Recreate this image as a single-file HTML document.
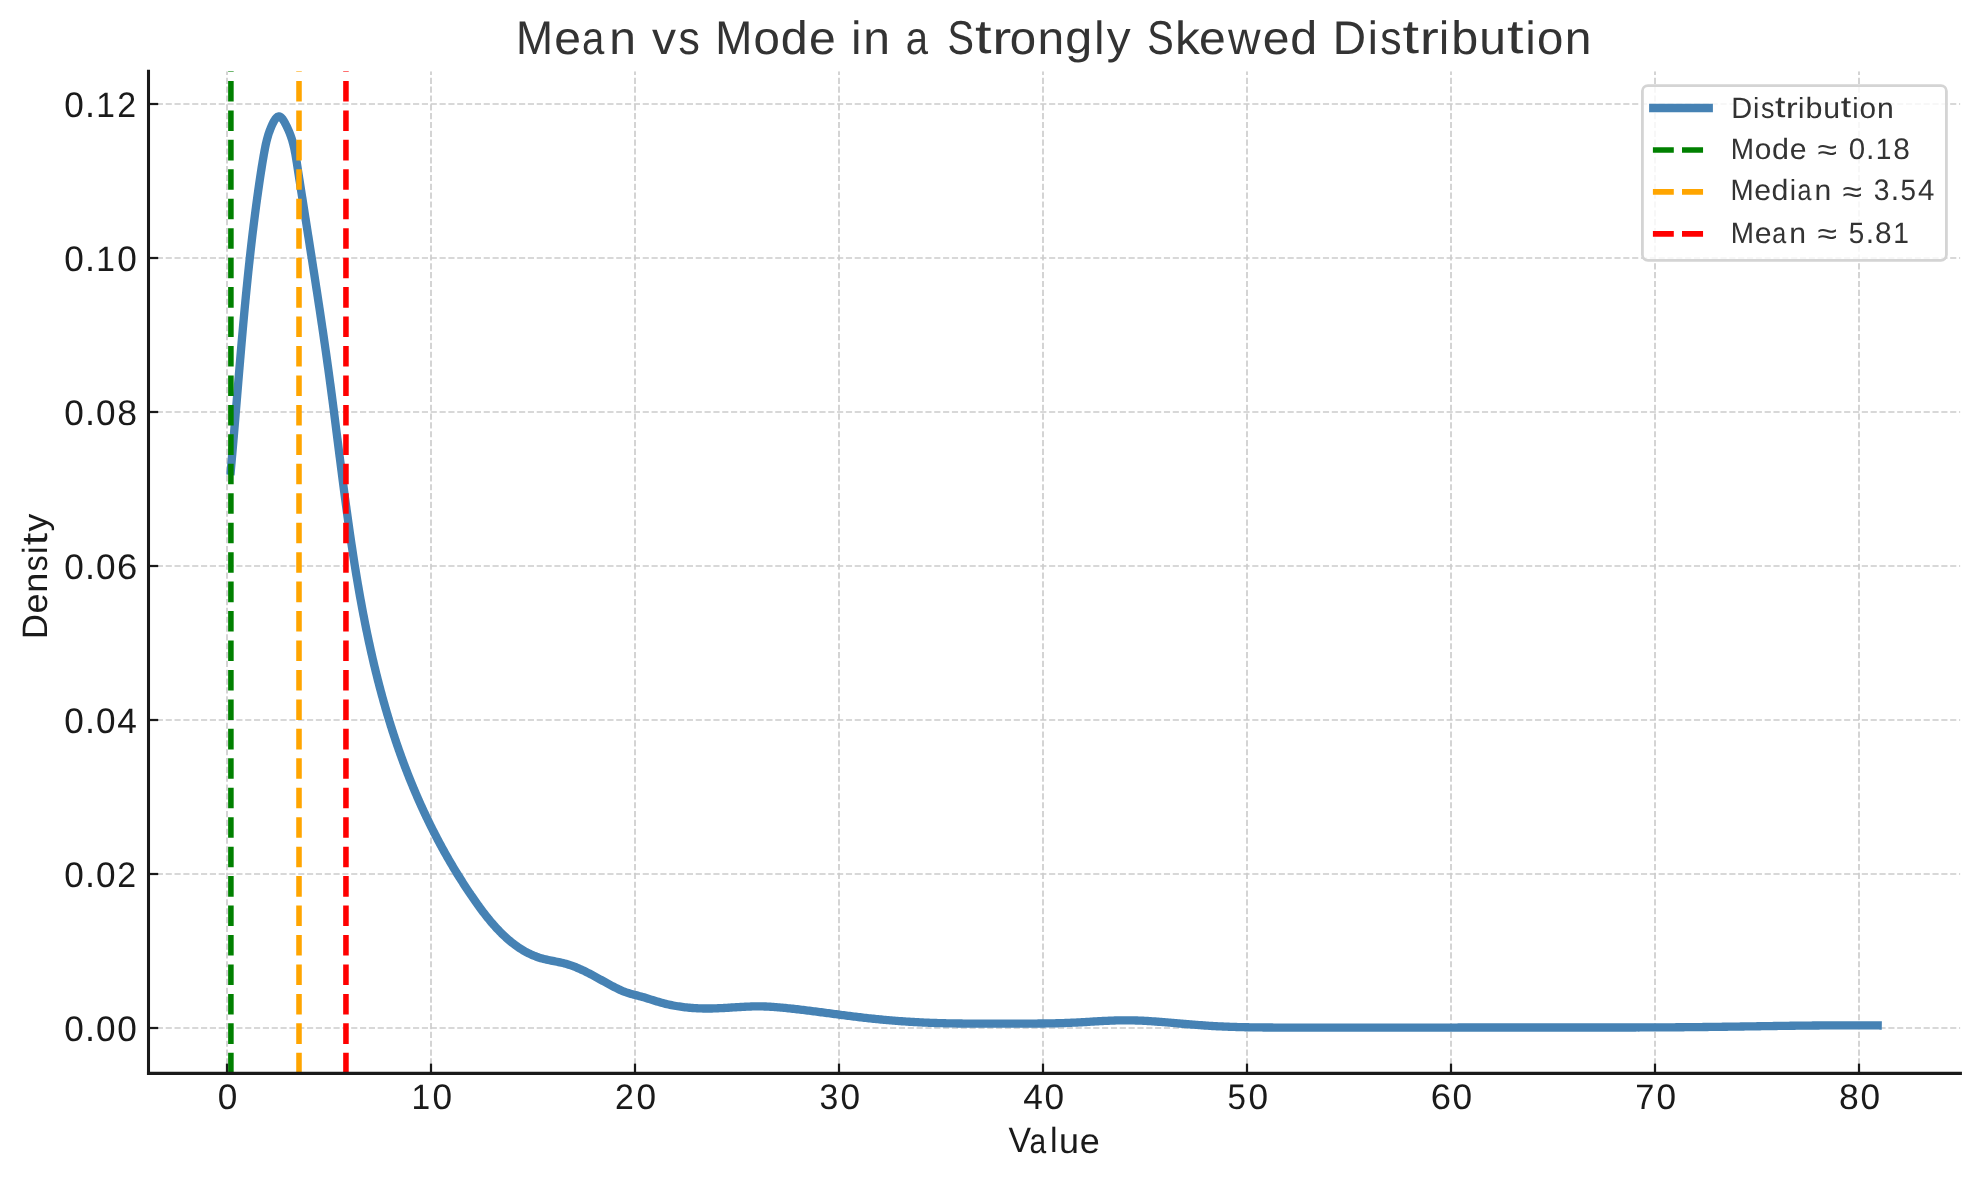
<!DOCTYPE html>
<html><head><meta charset="utf-8"><title>Mean vs Mode in a Strongly Skewed Distribution</title>
<style>html,body{margin:0;padding:0;background:#fff;width:1980px;height:1180px;overflow:hidden}svg{display:block;will-change:transform}</style>
</head><body>
<svg width="1980" height="1180" viewBox="0 0 1980 1180">
<defs><clipPath id="ax"><rect x="148.50" y="71.20" width="1811.90" height="1002.15"/></clipPath></defs>
<rect x="0" y="0" width="1980" height="1180" fill="#ffffff"/>
<g clip-path="url(#ax)" stroke="#cccccc" stroke-width="1.67" stroke-dasharray="6.167 2.667" fill="none">
<path d="M227.00 1073.35 L227.00 71.20"/>
<path d="M431.00 1073.35 L431.00 71.20"/>
<path d="M635.00 1073.35 L635.00 71.20"/>
<path d="M839.00 1073.35 L839.00 71.20"/>
<path d="M1043.00 1073.35 L1043.00 71.20"/>
<path d="M1247.00 1073.35 L1247.00 71.20"/>
<path d="M1451.00 1073.35 L1451.00 71.20"/>
<path d="M1655.00 1073.35 L1655.00 71.20"/>
<path d="M1859.00 1073.35 L1859.00 71.20"/>
<path d="M148.00 1028.00 L1960.40 1028.00"/>
<path d="M148.00 874.00 L1960.40 874.00"/>
<path d="M148.00 720.00 L1960.40 720.00"/>
<path d="M148.00 566.00 L1960.40 566.00"/>
<path d="M148.00 412.00 L1960.40 412.00"/>
<path d="M148.00 258.00 L1960.40 258.00"/>
<path d="M148.00 104.00 L1960.40 104.00"/>
</g>
<g clip-path="url(#ax)">
<path d="M230.39 475.00 L230.53 473.51 L230.67 472.01 L230.80 470.52 L230.93 469.02 L231.07 467.53 L231.20 466.03 L231.33 464.54 L231.47 463.04 L231.60 461.55 L231.73 460.05 L231.86 458.56 L231.99 457.06 L232.12 455.57 L232.26 454.07 L232.39 452.58 L232.51 451.08 L232.64 449.58 L232.77 448.09 L232.90 446.59 L233.03 445.10 L233.16 443.60 L233.29 442.11 L233.41 440.61 L233.54 439.11 L233.67 437.62 L233.80 436.12 L233.92 434.62 L234.05 433.13 L234.17 431.63 L234.30 430.14 L234.43 428.64 L234.55 427.14 L234.68 425.65 L234.80 424.15 L234.93 422.65 L235.05 421.16 L235.18 419.66 L235.30 418.16 L235.43 416.67 L235.55 415.17 L235.67 413.67 L235.80 412.18 L235.92 410.68 L236.05 409.18 L236.17 407.69 L236.29 406.19 L236.42 404.69 L236.54 403.20 L236.67 401.70 L236.79 400.20 L236.91 398.70 L237.04 397.21 L237.16 395.71 L237.28 394.21 L237.41 392.72 L237.53 391.22 L237.65 389.72 L237.78 388.23 L237.90 386.73 L238.03 385.23 L238.15 383.73 L238.27 382.24 L238.40 380.74 L238.52 379.24 L238.65 377.75 L238.77 376.25 L238.90 374.75 L239.02 373.26 L239.15 371.76 L239.27 370.26 L239.40 368.77 L239.52 367.27 L239.65 365.77 L239.77 364.28 L239.90 362.78 L240.03 361.28 L240.15 359.79 L240.28 358.29 L240.41 356.79 L240.53 355.30 L240.66 353.80 L240.79 352.31 L240.92 350.81 L241.05 349.31 L241.17 347.82 L241.30 346.32 L241.43 344.82 L241.56 343.33 L241.69 341.83 L241.82 340.34 L241.95 338.84 L242.08 337.35 L242.21 335.85 L242.35 334.35 L242.48 332.86 L242.61 331.36 L242.74 329.87 L242.88 328.37 L243.01 326.88 L243.15 325.38 L243.28 323.89 L243.41 322.39 L243.55 320.90 L243.69 319.40 L243.82 317.91 L243.96 316.41 L244.10 314.92 L244.24 313.43 L244.37 311.93 L244.51 310.44 L244.65 308.94 L244.79 307.45 L244.93 305.96 L245.07 304.46 L245.22 302.97 L245.36 301.47 L245.50 299.98 L245.65 298.49 L245.79 296.99 L245.93 295.50 L246.08 294.01 L246.23 292.52 L246.37 291.02 L246.52 289.53 L246.67 288.04 L246.82 286.55 L246.97 285.05 L247.12 283.56 L247.27 282.07 L247.42 280.58 L247.57 279.08 L247.72 277.59 L247.88 276.10 L248.03 274.61 L248.19 273.12 L248.34 271.63 L248.50 270.13 L248.66 268.64 L248.82 267.15 L248.97 265.66 L249.13 264.17 L249.30 262.68 L249.46 261.19 L249.62 259.69 L249.78 258.20 L249.95 256.71 L250.11 255.22 L250.28 253.73 L250.44 252.24 L250.61 250.75 L250.78 249.26 L250.95 247.77 L251.12 246.28 L251.29 244.78 L251.46 243.29 L251.64 241.80 L251.81 240.31 L251.99 238.82 L252.16 237.33 L252.34 235.84 L252.52 234.35 L252.70 232.86 L252.88 231.37 L253.06 229.88 L253.24 228.38 L253.42 226.89 L253.61 225.40 L253.79 223.91 L253.98 222.42 L254.17 220.93 L254.36 219.44 L254.55 217.95 L254.74 216.46 L254.93 214.97 L255.12 213.48 L255.32 211.98 L255.51 210.49 L255.71 209.00 L255.91 207.51 L256.10 206.02 L256.30 204.53 L256.51 203.04 L256.71 201.54 L256.91 200.05 L257.12 198.56 L257.32 197.07 L257.53 195.58 L257.74 194.09 L257.95 192.59 L258.16 191.10 L258.37 189.61 L258.59 188.12 L258.80 186.63 L259.02 185.13 L259.23 183.64 L259.45 182.15 L259.67 180.66 L259.89 179.16 L260.12 177.67 L260.34 176.18 L260.57 174.69 L260.80 173.20 L261.02 171.71 L261.26 170.22 L261.49 168.74 L261.72 167.26 L261.96 165.78 L262.20 164.31 L262.44 162.84 L262.68 161.37 L262.93 159.91 L263.18 158.46 L263.43 157.01 L263.68 155.56 L263.93 154.13 L264.19 152.70 L264.45 151.27 L264.72 149.86 L264.99 148.45 L265.26 147.04 L265.55 145.63 L265.85 144.22 L266.17 142.81 L266.50 141.39 L266.86 139.95 L267.24 138.51 L267.65 137.05 L268.08 135.57 L268.56 134.07 L269.06 132.54 L269.61 131.00 L270.19 129.44 L270.83 127.86 L271.50 126.26 L272.23 124.64 L273.01 123.02 L273.83 121.46 L274.69 120.00 L275.58 118.71 L276.50 117.65 L277.43 116.88 L278.38 116.46 L279.34 116.43 L280.29 116.82 L281.24 117.56 L282.18 118.59 L283.10 119.84 L283.99 121.27 L284.85 122.80 L285.68 124.38 L286.46 125.94 L287.20 127.45 L287.90 128.94 L288.55 130.39 L289.17 131.83 L289.75 133.26 L290.30 134.68 L290.82 136.10 L291.31 137.53 L291.78 138.96 L292.22 140.40 L292.63 141.85 L293.03 143.30 L293.40 144.75 L293.75 146.21 L294.09 147.67 L294.41 149.14 L294.71 150.61 L295.00 152.08 L295.28 153.56 L295.54 155.03 L295.80 156.51 L296.05 157.99 L296.29 159.48 L296.53 160.96 L296.76 162.44 L296.99 163.93 L297.22 165.41 L297.45 166.90 L297.68 168.38 L297.91 169.87 L298.13 171.35 L298.36 172.83 L298.60 174.32 L298.83 175.80 L299.06 177.28 L299.29 178.77 L299.52 180.25 L299.75 181.73 L299.98 183.22 L300.21 184.70 L300.44 186.18 L300.67 187.66 L300.90 189.14 L301.14 190.63 L301.37 192.11 L301.60 193.59 L301.83 195.07 L302.06 196.55 L302.30 198.03 L302.53 199.51 L302.76 200.99 L302.99 202.47 L303.23 203.96 L303.46 205.44 L303.69 206.92 L303.92 208.40 L304.16 209.88 L304.39 211.36 L304.62 212.84 L304.85 214.32 L305.09 215.80 L305.32 217.28 L305.55 218.76 L305.79 220.24 L306.02 221.71 L306.25 223.19 L306.48 224.67 L306.72 226.15 L306.95 227.63 L307.18 229.11 L307.42 230.59 L307.65 232.07 L307.88 233.55 L308.11 235.03 L308.35 236.51 L308.58 237.98 L308.81 239.46 L309.04 240.94 L309.28 242.42 L309.51 243.90 L309.74 245.38 L309.97 246.86 L310.20 248.33 L310.44 249.81 L310.67 251.29 L310.90 252.77 L311.13 254.25 L311.36 255.73 L311.59 257.21 L311.82 258.68 L312.06 260.16 L312.29 261.64 L312.52 263.12 L312.75 264.60 L312.98 266.08 L313.21 267.56 L313.44 269.03 L313.67 270.51 L313.90 271.99 L314.13 273.47 L314.36 274.95 L314.58 276.43 L314.81 277.91 L315.04 279.38 L315.27 280.86 L315.50 282.34 L315.73 283.82 L315.95 285.30 L316.18 286.78 L316.41 288.26 L316.64 289.74 L316.86 291.22 L317.09 292.69 L317.32 294.17 L317.54 295.65 L317.77 297.13 L317.99 298.61 L318.22 300.09 L318.44 301.57 L318.67 303.05 L318.89 304.53 L319.12 306.01 L319.34 307.49 L319.56 308.97 L319.79 310.45 L320.01 311.93 L320.23 313.41 L320.45 314.89 L320.67 316.37 L320.90 317.86 L321.12 319.34 L321.34 320.82 L321.56 322.30 L321.78 323.78 L322.00 325.26 L322.22 326.74 L322.43 328.22 L322.65 329.71 L322.87 331.19 L323.09 332.67 L323.31 334.15 L323.52 335.64 L323.74 337.12 L323.95 338.60 L324.17 340.08 L324.38 341.57 L324.60 343.05 L324.81 344.53 L325.03 346.02 L325.24 347.50 L325.45 348.99 L325.66 350.47 L325.88 351.96 L326.09 353.44 L326.30 354.92 L326.51 356.41 L326.72 357.90 L326.93 359.38 L327.14 360.87 L327.34 362.35 L327.55 363.84 L327.76 365.32 L327.97 366.81 L328.17 368.30 L328.38 369.78 L328.58 371.27 L328.79 372.76 L328.99 374.25 L329.19 375.73 L329.40 377.22 L329.60 378.71 L329.80 380.20 L330.00 381.69 L330.20 383.18 L330.40 384.67 L330.60 386.16 L330.80 387.65 L331.00 389.14 L331.20 390.63 L331.39 392.12 L331.59 393.61 L331.79 395.10 L331.98 396.59 L332.18 398.08 L332.37 399.57 L332.57 401.07 L332.76 402.56 L332.96 404.05 L333.15 405.54 L333.34 407.03 L333.54 408.53 L333.73 410.02 L333.92 411.51 L334.12 413.01 L334.31 414.50 L334.50 415.99 L334.69 417.49 L334.88 418.98 L335.07 420.47 L335.26 421.97 L335.45 423.46 L335.64 424.96 L335.83 426.45 L336.02 427.94 L336.21 429.44 L336.40 430.93 L336.59 432.43 L336.78 433.92 L336.97 435.42 L337.16 436.91 L337.35 438.41 L337.54 439.90 L337.73 441.40 L337.92 442.89 L338.11 444.39 L338.30 445.88 L338.49 447.38 L338.68 448.88 L338.87 450.37 L339.06 451.87 L339.25 453.36 L339.44 454.86 L339.63 456.35 L339.82 457.85 L340.01 459.35 L340.20 460.84 L340.39 462.34 L340.58 463.83 L340.77 465.33 L340.96 466.82 L341.15 468.32 L341.34 469.82 L341.54 471.31 L341.73 472.81 L341.92 474.30 L342.11 475.80 L342.31 477.29 L342.50 478.79 L342.69 480.28 L342.89 481.78 L343.08 483.28 L343.28 484.77 L343.47 486.27 L343.67 487.76 L343.86 489.26 L344.06 490.75 L344.26 492.25 L344.46 493.74 L344.65 495.24 L344.85 496.73 L345.05 498.23 L345.25 499.72 L345.45 501.22 L345.65 502.71 L345.85 504.20 L346.05 505.70 L346.26 507.19 L346.46 508.69 L346.66 510.18 L346.87 511.67 L347.07 513.17 L347.28 514.66 L347.48 516.15 L347.69 517.65 L347.90 519.14 L348.11 520.63 L348.32 522.12 L348.53 523.62 L348.74 525.11 L348.95 526.60 L349.16 528.09 L349.37 529.58 L349.59 531.07 L349.80 532.57 L350.02 534.06 L350.23 535.55 L350.45 537.04 L350.67 538.53 L350.89 540.02 L351.11 541.51 L351.33 543.00 L351.55 544.49 L351.77 545.98 L352.00 547.47 L352.22 548.95 L352.45 550.44 L352.67 551.93 L352.90 553.42 L353.13 554.91 L353.36 556.39 L353.59 557.88 L353.82 559.37 L354.06 560.85 L354.29 562.34 L354.52 563.83 L354.76 565.31 L355.00 566.80 L355.24 568.28 L355.48 569.77 L355.72 571.25 L355.96 572.74 L356.20 574.22 L356.45 575.70 L356.69 577.19 L356.94 578.67 L357.19 580.15 L357.44 581.63 L357.69 583.12 L357.94 584.60 L358.20 586.08 L358.45 587.56 L358.71 589.04 L358.97 590.52 L359.23 592.00 L359.49 593.48 L359.75 594.96 L360.01 596.44 L360.28 597.91 L360.54 599.39 L360.81 600.87 L361.08 602.35 L361.35 603.82 L361.63 605.30 L361.90 606.77 L362.17 608.25 L362.45 609.72 L362.73 611.20 L363.01 612.67 L363.29 614.15 L363.58 615.62 L363.86 617.09 L364.15 618.56 L364.44 620.03 L364.73 621.51 L365.02 622.98 L365.31 624.45 L365.61 625.92 L365.90 627.39 L366.20 628.85 L366.50 630.32 L366.80 631.79 L367.11 633.26 L367.41 634.72 L367.72 636.19 L368.03 637.66 L368.34 639.12 L368.65 640.59 L368.97 642.05 L369.29 643.51 L369.60 644.98 L369.92 646.44 L370.25 647.90 L370.57 649.36 L370.90 650.82 L371.23 652.28 L371.56 653.74 L371.89 655.20 L372.22 656.66 L372.56 658.12 L372.90 659.58 L373.24 661.03 L373.58 662.49 L373.92 663.95 L374.27 665.40 L374.62 666.86 L374.97 668.31 L375.32 669.76 L375.68 671.22 L376.04 672.67 L376.39 674.12 L376.76 675.57 L377.12 677.02 L377.49 678.47 L377.85 679.92 L378.22 681.37 L378.60 682.81 L378.97 684.26 L379.35 685.71 L379.73 687.15 L380.11 688.60 L380.49 690.04 L380.88 691.49 L381.27 692.93 L381.66 694.37 L382.05 695.81 L382.45 697.25 L382.85 698.69 L383.25 700.13 L383.65 701.57 L384.06 703.01 L384.47 704.45 L384.88 705.88 L385.29 707.32 L385.71 708.75 L386.12 710.19 L386.55 711.62 L386.97 713.05 L387.39 714.49 L387.82 715.92 L388.25 717.35 L388.69 718.78 L389.12 720.21 L389.56 721.64 L390.00 723.06 L390.45 724.49 L390.89 725.92 L391.34 727.34 L391.80 728.77 L392.25 730.19 L392.71 731.61 L393.17 733.03 L393.63 734.46 L394.10 735.88 L394.57 737.30 L395.04 738.71 L395.51 740.13 L395.99 741.55 L396.47 742.97 L396.95 744.38 L397.44 745.80 L397.93 747.21 L398.42 748.62 L398.91 750.03 L399.41 751.44 L399.91 752.86 L400.41 754.26 L400.92 755.67 L401.43 757.08 L401.94 758.49 L402.45 759.89 L402.97 761.30 L403.49 762.70 L404.02 764.11 L404.54 765.51 L405.07 766.91 L405.61 768.31 L406.14 769.71 L406.68 771.11 L407.23 772.50 L407.77 773.90 L408.32 775.29 L408.87 776.69 L409.43 778.08 L409.98 779.47 L410.55 780.86 L411.11 782.25 L411.68 783.64 L412.25 785.03 L412.82 786.42 L413.40 787.80 L413.98 789.19 L414.56 790.57 L415.14 791.95 L415.73 793.33 L416.33 794.71 L416.92 796.09 L417.52 797.47 L418.12 798.84 L418.73 800.22 L419.33 801.59 L419.95 802.96 L420.56 804.33 L421.18 805.70 L421.80 807.07 L422.42 808.43 L423.05 809.80 L423.68 811.16 L424.31 812.53 L424.95 813.89 L425.59 815.25 L426.23 816.60 L426.88 817.96 L427.53 819.32 L428.18 820.67 L428.84 822.02 L429.50 823.37 L430.16 824.72 L430.83 826.07 L431.50 827.41 L432.17 828.76 L432.84 830.10 L433.52 831.44 L434.21 832.78 L434.89 834.12 L435.58 835.46 L436.27 836.79 L436.97 838.13 L437.67 839.46 L438.37 840.79 L439.08 842.12 L439.79 843.44 L440.50 844.77 L441.21 846.09 L441.93 847.41 L442.66 848.73 L443.38 850.05 L444.11 851.37 L444.84 852.68 L445.58 853.99 L446.32 855.30 L447.06 856.61 L447.81 857.92 L448.56 859.22 L449.31 860.53 L450.07 861.83 L450.83 863.13 L451.59 864.42 L452.36 865.72 L453.13 867.01 L453.90 868.31 L454.68 869.60 L455.46 870.88 L456.24 872.17 L457.03 873.45 L457.82 874.73 L458.62 876.01 L459.41 877.29 L460.22 878.57 L461.02 879.84 L461.83 881.11 L462.64 882.38 L463.46 883.65 L464.28 884.91 L465.10 886.18 L465.92 887.44 L466.75 888.70 L467.59 889.95 L468.42 891.21 L469.26 892.46 L470.11 893.71 L470.95 894.96 L471.81 896.20 L472.66 897.44 L473.52 898.68 L474.38 899.92 L475.24 901.16 L476.11 902.39 L476.99 903.62 L477.86 904.85 L478.75 906.07 L479.63 907.30 L480.52 908.51 L481.42 909.72 L482.33 910.93 L483.23 912.13 L484.15 913.33 L485.07 914.52 L486.00 915.71 L486.93 916.89 L487.87 918.07 L488.82 919.23 L489.78 920.39 L490.74 921.55 L491.72 922.69 L492.70 923.83 L493.69 924.96 L494.69 926.08 L495.69 927.20 L496.71 928.30 L497.74 929.40 L498.77 930.48 L499.82 931.56 L500.88 932.62 L501.94 933.68 L503.02 934.72 L504.11 935.76 L505.21 936.78 L506.33 937.79 L507.45 938.79 L508.59 939.78 L509.73 940.75 L510.89 941.70 L512.06 942.64 L513.25 943.57 L514.44 944.48 L515.65 945.37 L516.86 946.25 L518.09 947.10 L519.33 947.94 L520.59 948.76 L521.85 949.55 L523.13 950.33 L524.42 951.08 L525.72 951.81 L527.03 952.52 L528.36 953.20 L529.70 953.86 L531.05 954.49 L532.41 955.10 L533.78 955.68 L535.17 956.23 L536.57 956.76 L537.98 957.25 L539.40 957.72 L540.84 958.16 L542.29 958.57 L543.74 958.95 L545.21 959.31 L546.69 959.65 L548.17 959.97 L549.66 960.28 L551.15 960.59 L552.64 960.88 L554.13 961.18 L555.63 961.47 L557.12 961.77 L558.61 962.07 L560.09 962.39 L561.57 962.72 L563.04 963.07 L564.50 963.44 L565.95 963.83 L567.39 964.25 L568.82 964.69 L570.24 965.15 L571.65 965.64 L573.05 966.15 L574.45 966.68 L575.83 967.22 L577.21 967.79 L578.58 968.37 L579.95 968.97 L581.31 969.58 L582.66 970.21 L584.01 970.85 L585.35 971.51 L586.69 972.17 L588.03 972.85 L589.36 973.54 L590.69 974.23 L592.02 974.94 L593.34 975.65 L594.66 976.36 L595.98 977.09 L597.30 977.81 L598.62 978.54 L599.94 979.28 L601.26 980.01 L602.58 980.74 L603.90 981.48 L605.23 982.21 L606.55 982.94 L607.88 983.67 L609.21 984.39 L610.55 985.11 L611.89 985.82 L613.23 986.53 L614.58 987.22 L615.93 987.91 L617.29 988.58 L618.65 989.24 L620.02 989.87 L621.39 990.48 L622.76 991.07 L624.14 991.62 L625.53 992.14 L626.92 992.62 L628.31 993.07 L629.71 993.50 L631.11 993.90 L632.51 994.28 L633.92 994.66 L635.33 995.02 L636.75 995.39 L638.17 995.76 L639.59 996.15 L641.02 996.54 L642.45 996.95 L643.88 997.37 L645.32 997.81 L646.76 998.25 L648.20 998.69 L649.65 999.14 L651.09 999.60 L652.55 1000.05 L654.00 1000.50 L655.46 1000.95 L656.92 1001.39 L658.38 1001.83 L659.84 1002.26 L661.31 1002.67 L662.78 1003.08 L664.25 1003.47 L665.73 1003.84 L667.20 1004.20 L668.68 1004.54 L670.16 1004.86 L671.64 1005.17 L673.13 1005.47 L674.61 1005.75 L676.10 1006.01 L677.59 1006.26 L679.08 1006.49 L680.57 1006.71 L682.06 1006.92 L683.56 1007.11 L685.05 1007.29 L686.55 1007.46 L688.05 1007.61 L689.55 1007.75 L691.05 1007.88 L692.55 1007.99 L694.05 1008.10 L695.55 1008.19 L697.05 1008.27 L698.55 1008.33 L700.05 1008.39 L701.55 1008.44 L703.06 1008.47 L704.56 1008.49 L706.06 1008.51 L707.56 1008.51 L709.07 1008.51 L710.57 1008.49 L712.07 1008.47 L713.57 1008.43 L715.07 1008.39 L716.57 1008.34 L718.07 1008.28 L719.57 1008.21 L721.07 1008.14 L722.57 1008.07 L724.07 1007.98 L725.57 1007.90 L727.06 1007.81 L728.56 1007.72 L730.06 1007.63 L731.56 1007.53 L733.05 1007.44 L734.55 1007.34 L736.04 1007.25 L737.54 1007.15 L739.03 1007.06 L740.53 1006.97 L742.02 1006.89 L743.52 1006.81 L745.01 1006.73 L746.51 1006.66 L748.00 1006.60 L749.49 1006.54 L750.99 1006.49 L752.48 1006.44 L753.97 1006.41 L755.46 1006.39 L756.96 1006.37 L758.45 1006.37 L759.94 1006.38 L761.43 1006.40 L762.93 1006.43 L764.42 1006.47 L765.91 1006.52 L767.40 1006.59 L768.89 1006.66 L770.38 1006.74 L771.88 1006.83 L773.37 1006.93 L774.86 1007.04 L776.35 1007.16 L777.84 1007.28 L779.33 1007.40 L780.82 1007.54 L782.32 1007.68 L783.81 1007.82 L785.30 1007.97 L786.79 1008.12 L788.28 1008.27 L789.77 1008.43 L791.27 1008.59 L792.76 1008.76 L794.25 1008.92 L795.74 1009.09 L797.24 1009.26 L798.73 1009.44 L800.22 1009.61 L801.71 1009.79 L803.20 1009.97 L804.70 1010.15 L806.19 1010.34 L807.68 1010.52 L809.18 1010.71 L810.67 1010.90 L812.16 1011.09 L813.65 1011.28 L815.15 1011.47 L816.64 1011.66 L818.13 1011.86 L819.63 1012.05 L821.12 1012.25 L822.61 1012.44 L824.11 1012.64 L825.60 1012.84 L827.10 1013.04 L828.59 1013.23 L830.08 1013.43 L831.58 1013.63 L833.07 1013.83 L834.57 1014.03 L836.06 1014.22 L837.55 1014.42 L839.05 1014.62 L840.54 1014.81 L842.04 1015.01 L843.53 1015.20 L845.03 1015.39 L846.52 1015.59 L848.01 1015.78 L849.51 1015.97 L851.00 1016.16 L852.50 1016.34 L853.99 1016.53 L855.49 1016.71 L856.98 1016.90 L858.48 1017.08 L859.97 1017.25 L861.47 1017.43 L862.97 1017.60 L864.46 1017.78 L865.96 1017.95 L867.45 1018.11 L868.95 1018.28 L870.44 1018.44 L871.94 1018.60 L873.43 1018.75 L874.93 1018.91 L876.43 1019.06 L877.92 1019.21 L879.42 1019.36 L880.91 1019.50 L882.41 1019.64 L883.91 1019.78 L885.40 1019.92 L886.90 1020.05 L888.39 1020.18 L889.89 1020.31 L891.39 1020.44 L892.88 1020.56 L894.38 1020.68 L895.88 1020.80 L897.37 1020.92 L898.87 1021.03 L900.37 1021.14 L901.86 1021.25 L903.36 1021.36 L904.86 1021.46 L906.35 1021.56 L907.85 1021.66 L909.35 1021.75 L910.84 1021.85 L912.34 1021.94 L913.84 1022.02 L915.34 1022.11 L916.83 1022.19 L918.33 1022.27 L919.83 1022.35 L921.33 1022.43 L922.82 1022.50 L924.32 1022.57 L925.82 1022.64 L927.32 1022.70 L928.81 1022.76 L930.31 1022.82 L931.81 1022.88 L933.31 1022.93 L934.80 1022.98 L936.30 1023.03 L937.80 1023.08 L939.30 1023.12 L940.80 1023.17 L942.29 1023.21 L943.79 1023.24 L945.29 1023.28 L946.79 1023.31 L948.29 1023.34 L949.78 1023.37 L951.28 1023.40 L952.78 1023.42 L954.28 1023.44 L955.78 1023.46 L957.28 1023.48 L958.77 1023.50 L960.27 1023.52 L961.77 1023.53 L963.27 1023.54 L964.77 1023.56 L966.27 1023.57 L967.77 1023.58 L969.26 1023.58 L970.76 1023.59 L972.26 1023.60 L973.76 1023.60 L975.26 1023.61 L976.76 1023.61 L978.26 1023.61 L979.76 1023.61 L981.25 1023.61 L982.75 1023.61 L984.25 1023.61 L985.75 1023.61 L987.25 1023.61 L988.75 1023.61 L990.25 1023.61 L991.75 1023.61 L993.25 1023.60 L994.75 1023.60 L996.25 1023.60 L997.75 1023.60 L999.24 1023.59 L1000.74 1023.59 L1002.24 1023.59 L1003.74 1023.59 L1005.24 1023.59 L1006.74 1023.59 L1008.24 1023.59 L1009.74 1023.59 L1011.24 1023.59 L1012.74 1023.59 L1014.24 1023.59 L1015.74 1023.59 L1017.24 1023.59 L1018.74 1023.59 L1020.24 1023.59 L1021.74 1023.59 L1023.24 1023.59 L1024.74 1023.58 L1026.24 1023.58 L1027.73 1023.58 L1029.23 1023.57 L1030.73 1023.57 L1032.23 1023.56 L1033.73 1023.56 L1035.23 1023.55 L1036.73 1023.54 L1038.23 1023.53 L1039.73 1023.51 L1041.23 1023.50 L1042.73 1023.48 L1044.23 1023.47 L1045.73 1023.45 L1047.23 1023.43 L1048.73 1023.40 L1050.23 1023.38 L1051.73 1023.35 L1053.23 1023.32 L1054.73 1023.29 L1056.23 1023.26 L1057.73 1023.22 L1059.23 1023.18 L1060.73 1023.14 L1062.23 1023.10 L1063.73 1023.05 L1065.23 1023.00 L1066.73 1022.95 L1068.23 1022.89 L1069.73 1022.83 L1071.23 1022.77 L1072.73 1022.71 L1074.23 1022.64 L1075.73 1022.57 L1077.23 1022.49 L1078.73 1022.41 L1080.23 1022.33 L1081.73 1022.25 L1083.23 1022.16 L1084.73 1022.07 L1086.23 1021.99 L1087.73 1021.90 L1089.23 1021.81 L1090.73 1021.71 L1092.23 1021.62 L1093.73 1021.53 L1095.23 1021.44 L1096.73 1021.35 L1098.23 1021.27 L1099.74 1021.18 L1101.24 1021.10 L1102.74 1021.02 L1104.24 1020.94 L1105.74 1020.86 L1107.24 1020.79 L1108.74 1020.72 L1110.24 1020.66 L1111.74 1020.60 L1113.24 1020.54 L1114.74 1020.49 L1116.24 1020.45 L1117.74 1020.41 L1119.24 1020.38 L1120.74 1020.35 L1122.24 1020.33 L1123.74 1020.32 L1125.24 1020.31 L1126.74 1020.31 L1128.24 1020.32 L1129.74 1020.34 L1131.24 1020.37 L1132.74 1020.40 L1134.24 1020.43 L1135.74 1020.48 L1137.24 1020.53 L1138.74 1020.58 L1140.24 1020.65 L1141.74 1020.71 L1143.24 1020.78 L1144.74 1020.86 L1146.24 1020.94 L1147.74 1021.03 L1149.24 1021.12 L1150.74 1021.21 L1152.25 1021.31 L1153.75 1021.41 L1155.25 1021.52 L1156.75 1021.63 L1158.25 1021.74 L1159.75 1021.85 L1161.25 1021.97 L1162.75 1022.09 L1164.25 1022.21 L1165.75 1022.33 L1167.25 1022.46 L1168.75 1022.58 L1170.25 1022.71 L1171.75 1022.84 L1173.25 1022.96 L1174.75 1023.09 L1176.25 1023.22 L1177.75 1023.35 L1179.25 1023.48 L1180.75 1023.61 L1182.25 1023.74 L1183.75 1023.86 L1185.25 1023.99 L1186.76 1024.11 L1188.26 1024.24 L1189.76 1024.36 L1191.26 1024.48 L1192.76 1024.60 L1194.26 1024.72 L1195.76 1024.84 L1197.26 1024.95 L1198.76 1025.07 L1200.26 1025.18 L1201.76 1025.28 L1203.26 1025.39 L1204.76 1025.50 L1206.26 1025.60 L1207.76 1025.70 L1209.26 1025.79 L1210.76 1025.89 L1212.26 1025.98 L1213.77 1026.06 L1215.27 1026.15 L1216.77 1026.23 L1218.27 1026.31 L1219.77 1026.38 L1221.27 1026.45 L1222.77 1026.52 L1224.27 1026.59 L1225.77 1026.65 L1227.27 1026.71 L1228.77 1026.76 L1230.27 1026.82 L1231.77 1026.87 L1233.27 1026.92 L1234.77 1026.96 L1236.27 1027.01 L1237.78 1027.05 L1239.28 1027.09 L1240.78 1027.13 L1242.28 1027.16 L1243.78 1027.19 L1245.28 1027.22 L1246.78 1027.25 L1248.28 1027.28 L1249.78 1027.31 L1251.28 1027.33 L1252.78 1027.35 L1254.28 1027.37 L1255.78 1027.39 L1257.28 1027.41 L1258.79 1027.43 L1260.29 1027.44 L1261.79 1027.46 L1263.29 1027.47 L1264.79 1027.48 L1266.29 1027.49 L1267.79 1027.50 L1269.29 1027.51 L1270.79 1027.52 L1272.29 1027.53 L1273.79 1027.54 L1275.29 1027.55 L1276.79 1027.55 L1278.30 1027.56 L1279.80 1027.57 L1281.30 1027.57 L1282.80 1027.58 L1284.30 1027.58 L1285.80 1027.59 L1287.30 1027.59 L1288.80 1027.60 L1290.30 1027.61 L1291.80 1027.61 L1293.30 1027.61 L1294.80 1027.62 L1296.31 1027.62 L1297.81 1027.63 L1299.31 1027.63 L1300.81 1027.64 L1302.31 1027.64 L1303.81 1027.64 L1305.31 1027.65 L1306.81 1027.65 L1308.31 1027.65 L1309.81 1027.66 L1311.31 1027.66 L1312.81 1027.66 L1314.32 1027.67 L1315.82 1027.67 L1317.32 1027.67 L1318.82 1027.67 L1320.32 1027.67 L1321.82 1027.68 L1323.32 1027.68 L1324.82 1027.68 L1326.32 1027.68 L1327.82 1027.68 L1329.32 1027.68 L1330.83 1027.69 L1332.33 1027.69 L1333.83 1027.69 L1335.33 1027.69 L1336.83 1027.69 L1338.33 1027.69 L1339.83 1027.69 L1341.33 1027.69 L1342.83 1027.69 L1344.33 1027.69 L1345.83 1027.69 L1347.34 1027.69 L1348.84 1027.69 L1350.34 1027.69 L1351.84 1027.69 L1353.34 1027.69 L1354.84 1027.69 L1356.34 1027.69 L1357.84 1027.69 L1359.34 1027.69 L1360.84 1027.69 L1362.35 1027.69 L1363.85 1027.69 L1365.35 1027.68 L1366.85 1027.68 L1368.35 1027.68 L1369.85 1027.68 L1371.35 1027.68 L1372.85 1027.68 L1374.35 1027.68 L1375.85 1027.67 L1377.36 1027.67 L1378.86 1027.67 L1380.36 1027.67 L1381.86 1027.67 L1383.36 1027.67 L1384.86 1027.66 L1386.36 1027.66 L1387.86 1027.66 L1389.36 1027.66 L1390.87 1027.66 L1392.37 1027.65 L1393.87 1027.65 L1395.37 1027.65 L1396.87 1027.65 L1398.37 1027.64 L1399.87 1027.64 L1401.37 1027.64 L1402.87 1027.64 L1404.38 1027.63 L1405.88 1027.63 L1407.38 1027.63 L1408.88 1027.63 L1410.38 1027.62 L1411.88 1027.62 L1413.38 1027.62 L1414.88 1027.62 L1416.38 1027.61 L1417.89 1027.61 L1419.39 1027.61 L1420.89 1027.60 L1422.39 1027.60 L1423.89 1027.60 L1425.39 1027.60 L1426.89 1027.59 L1428.39 1027.59 L1429.89 1027.59 L1431.40 1027.58 L1432.90 1027.58 L1434.40 1027.58 L1435.90 1027.58 L1437.40 1027.57 L1438.90 1027.57 L1440.40 1027.57 L1441.90 1027.56 L1443.40 1027.56 L1444.91 1027.56 L1446.41 1027.56 L1447.91 1027.55 L1449.41 1027.55 L1450.91 1027.55 L1452.41 1027.54 L1453.91 1027.54 L1455.41 1027.54 L1456.92 1027.54 L1458.42 1027.53 L1459.92 1027.53 L1461.42 1027.53 L1462.92 1027.53 L1464.42 1027.52 L1465.92 1027.52 L1467.42 1027.52 L1468.93 1027.52 L1470.43 1027.51 L1471.93 1027.51 L1473.43 1027.51 L1474.93 1027.51 L1476.43 1027.50 L1477.93 1027.50 L1479.43 1027.50 L1480.93 1027.50 L1482.44 1027.50 L1483.94 1027.49 L1485.44 1027.49 L1486.94 1027.49 L1488.44 1027.49 L1489.94 1027.49 L1491.44 1027.49 L1492.94 1027.48 L1494.45 1027.48 L1495.95 1027.48 L1497.45 1027.48 L1498.95 1027.48 L1500.45 1027.48 L1501.95 1027.48 L1503.45 1027.47 L1504.95 1027.47 L1506.46 1027.47 L1507.96 1027.47 L1509.46 1027.47 L1510.96 1027.47 L1512.46 1027.47 L1513.96 1027.47 L1515.46 1027.47 L1516.97 1027.47 L1518.47 1027.47 L1519.97 1027.47 L1521.47 1027.47 L1522.97 1027.47 L1524.47 1027.47 L1525.97 1027.47 L1527.47 1027.47 L1528.98 1027.47 L1530.48 1027.47 L1531.98 1027.47 L1533.48 1027.47 L1534.98 1027.47 L1536.48 1027.47 L1537.98 1027.47 L1539.48 1027.48 L1540.99 1027.48 L1542.49 1027.48 L1543.99 1027.48 L1545.49 1027.48 L1546.99 1027.48 L1548.49 1027.48 L1549.99 1027.48 L1551.50 1027.48 L1553.00 1027.49 L1554.50 1027.49 L1556.00 1027.49 L1557.50 1027.49 L1559.00 1027.49 L1560.50 1027.49 L1562.00 1027.49 L1563.51 1027.49 L1565.01 1027.50 L1566.51 1027.50 L1568.01 1027.50 L1569.51 1027.50 L1571.01 1027.50 L1572.51 1027.50 L1574.02 1027.50 L1575.52 1027.50 L1577.02 1027.51 L1578.52 1027.51 L1580.02 1027.51 L1581.52 1027.51 L1583.02 1027.51 L1584.52 1027.51 L1586.03 1027.51 L1587.53 1027.51 L1589.03 1027.51 L1590.53 1027.51 L1592.03 1027.51 L1593.53 1027.51 L1595.03 1027.51 L1596.54 1027.51 L1598.04 1027.51 L1599.54 1027.51 L1601.04 1027.51 L1602.54 1027.51 L1604.04 1027.51 L1605.54 1027.51 L1607.05 1027.51 L1608.55 1027.51 L1610.05 1027.51 L1611.55 1027.51 L1613.05 1027.51 L1614.55 1027.50 L1616.05 1027.50 L1617.56 1027.50 L1619.06 1027.50 L1620.56 1027.50 L1622.06 1027.49 L1623.56 1027.49 L1625.06 1027.49 L1626.56 1027.49 L1628.07 1027.48 L1629.57 1027.48 L1631.07 1027.48 L1632.57 1027.47 L1634.07 1027.47 L1635.57 1027.47 L1637.07 1027.46 L1638.57 1027.46 L1640.08 1027.45 L1641.58 1027.45 L1643.08 1027.45 L1644.58 1027.44 L1646.08 1027.43 L1647.58 1027.43 L1649.08 1027.42 L1650.59 1027.42 L1652.09 1027.41 L1653.59 1027.40 L1655.09 1027.40 L1656.59 1027.39 L1658.09 1027.38 L1659.59 1027.38 L1661.10 1027.37 L1662.60 1027.36 L1664.10 1027.35 L1665.60 1027.34 L1667.10 1027.33 L1668.60 1027.33 L1670.10 1027.32 L1671.61 1027.31 L1673.11 1027.30 L1674.61 1027.29 L1676.11 1027.28 L1677.61 1027.26 L1679.11 1027.25 L1680.61 1027.24 L1682.12 1027.23 L1683.62 1027.22 L1685.12 1027.21 L1686.62 1027.19 L1688.12 1027.18 L1689.62 1027.17 L1691.12 1027.15 L1692.63 1027.14 L1694.13 1027.12 L1695.63 1027.11 L1697.13 1027.09 L1698.63 1027.08 L1700.13 1027.06 L1701.63 1027.05 L1703.14 1027.03 L1704.64 1027.01 L1706.14 1026.99 L1707.64 1026.98 L1709.14 1026.96 L1710.64 1026.94 L1712.14 1026.92 L1713.65 1026.90 L1715.15 1026.88 L1716.65 1026.86 L1718.15 1026.84 L1719.65 1026.82 L1721.15 1026.80 L1722.65 1026.78 L1724.16 1026.76 L1725.66 1026.74 L1727.16 1026.72 L1728.66 1026.70 L1730.16 1026.68 L1731.66 1026.65 L1733.16 1026.63 L1734.67 1026.61 L1736.17 1026.59 L1737.67 1026.56 L1739.17 1026.54 L1740.67 1026.52 L1742.17 1026.50 L1743.67 1026.47 L1745.18 1026.45 L1746.68 1026.43 L1748.18 1026.40 L1749.68 1026.38 L1751.18 1026.36 L1752.68 1026.34 L1754.18 1026.31 L1755.69 1026.29 L1757.19 1026.27 L1758.69 1026.24 L1760.19 1026.22 L1761.69 1026.20 L1763.19 1026.17 L1764.70 1026.15 L1766.20 1026.13 L1767.70 1026.11 L1769.20 1026.08 L1770.70 1026.06 L1772.20 1026.04 L1773.70 1026.02 L1775.21 1025.99 L1776.71 1025.97 L1778.21 1025.95 L1779.71 1025.93 L1781.21 1025.91 L1782.71 1025.89 L1784.21 1025.87 L1785.72 1025.85 L1787.22 1025.82 L1788.72 1025.80 L1790.22 1025.78 L1791.72 1025.76 L1793.22 1025.75 L1794.72 1025.73 L1796.23 1025.71 L1797.73 1025.69 L1799.23 1025.67 L1800.73 1025.65 L1802.23 1025.64 L1803.73 1025.62 L1805.23 1025.60 L1806.74 1025.59 L1808.24 1025.57 L1809.74 1025.55 L1811.24 1025.54 L1812.74 1025.52 L1814.24 1025.51 L1815.74 1025.50 L1817.24 1025.48 L1818.75 1025.47 L1820.25 1025.46 L1821.75 1025.45 L1823.25 1025.43 L1824.75 1025.42 L1826.25 1025.41 L1827.75 1025.40 L1829.26 1025.39 L1830.76 1025.38 L1832.26 1025.38 L1833.76 1025.37 L1835.26 1025.36 L1836.76 1025.36 L1838.26 1025.35 L1839.77 1025.34 L1841.27 1025.34 L1842.77 1025.34 L1844.27 1025.33 L1845.77 1025.33 L1847.27 1025.33 L1848.77 1025.33 L1850.28 1025.33 L1851.78 1025.33 L1853.28 1025.33 L1854.78 1025.33 L1856.28 1025.33 L1857.78 1025.33 L1859.28 1025.34 L1860.79 1025.34 L1862.29 1025.35 L1863.79 1025.35 L1865.29 1025.36 L1866.79 1025.37 L1868.29 1025.38 L1869.79 1025.39 L1871.30 1025.40 L1872.80 1025.41 L1874.30 1025.42 L1875.80 1025.43 L1877.30 1025.45 L1878.80 1025.46 L1880.30 1025.48 L1881.81 1025.50" fill="none" stroke="#4682b4" stroke-width="8.33" stroke-linejoin="round" stroke-linecap="butt"/>
<path d="M230.90 1073.35 L230.90 71.20" stroke="#008000" stroke-width="5.56" stroke-dasharray="20.56 8.89" fill="none"/>
<path d="M299.00 1073.35 L299.00 71.20" stroke="#ffa500" stroke-width="5.56" stroke-dasharray="20.56 8.89" fill="none"/>
<path d="M345.95 1073.35 L345.95 71.20" stroke="#ff0000" stroke-width="5.56" stroke-dasharray="20.56 8.89" fill="none"/>
</g>
<path d="M148.50 71.20 L148.50 1073.35" stroke="#1a1a1a" stroke-width="3.06" stroke-linecap="square" fill="none"/>
<path d="M148.50 1073.35 L1960.40 1073.35" stroke="#1a1a1a" stroke-width="3.06" stroke-linecap="square" fill="none"/>
<g stroke="#1a1a1a" stroke-width="2.22" fill="none">
<path d="M227.00 1073.35 L227.00 1063.63"/>
<path d="M431.00 1073.35 L431.00 1063.63"/>
<path d="M635.00 1073.35 L635.00 1063.63"/>
<path d="M839.00 1073.35 L839.00 1063.63"/>
<path d="M1043.00 1073.35 L1043.00 1063.63"/>
<path d="M1247.00 1073.35 L1247.00 1063.63"/>
<path d="M1451.00 1073.35 L1451.00 1063.63"/>
<path d="M1655.00 1073.35 L1655.00 1063.63"/>
<path d="M1859.00 1073.35 L1859.00 1063.63"/>
<path d="M148.50 1028.00 L158.22 1028.00"/>
<path d="M148.50 874.00 L158.22 874.00"/>
<path d="M148.50 720.00 L158.22 720.00"/>
<path d="M148.50 566.00 L158.22 566.00"/>
<path d="M148.50 412.00 L158.22 412.00"/>
<path d="M148.50 258.00 L158.22 258.00"/>
<path d="M148.50 104.00 L158.22 104.00"/>
</g>
<g font-family='"Liberation Sans", sans-serif' text-rendering="geometricPrecision">
<g fill="#1a1a1a" font-size="35.320"><text transform="translate(64.24 1040.75) scale(0.9948 1.0082)">0</text><text transform="translate(84.89 1040.63) scale(1.0212 1.0946)">.</text><text transform="translate(96.04 1040.75) scale(0.9948 1.0082)">0</text><text transform="translate(117.25 1040.75) scale(0.9948 1.0082)">0</text></g>
<g fill="#1a1a1a" font-size="35.320"><text transform="translate(64.24 886.75) scale(0.9948 1.0082)">0</text><text transform="translate(84.89 886.63) scale(1.0212 1.0946)">.</text><text transform="translate(96.04 886.75) scale(0.9948 1.0082)">0</text><text transform="translate(117.16 886.63) scale(0.9589 1.0031)">2</text></g>
<g fill="#1a1a1a" font-size="35.320"><text transform="translate(64.24 732.75) scale(0.9948 1.0082)">0</text><text transform="translate(84.89 732.63) scale(1.0212 1.0946)">.</text><text transform="translate(96.04 732.75) scale(0.9948 1.0082)">0</text><text transform="translate(117.24 732.63) scale(0.9949 1.0000)">4</text></g>
<g fill="#1a1a1a" font-size="35.320"><text transform="translate(64.24 578.75) scale(0.9948 1.0082)">0</text><text transform="translate(84.89 578.63) scale(1.0212 1.0946)">.</text><text transform="translate(96.04 578.75) scale(0.9948 1.0082)">0</text><text transform="translate(116.90 578.75) scale(1.0296 1.0082)">6</text></g>
<g fill="#1a1a1a" font-size="35.320"><text transform="translate(64.24 424.75) scale(0.9948 1.0082)">0</text><text transform="translate(84.89 424.63) scale(1.0212 1.0946)">.</text><text transform="translate(96.04 424.75) scale(0.9948 1.0082)">0</text><text transform="translate(117.14 424.75) scale(1.0056 1.0082)">8</text></g>
<g fill="#1a1a1a" font-size="35.320"><text transform="translate(64.24 270.75) scale(0.9948 1.0082)">0</text><text transform="translate(84.89 270.63) scale(1.0212 1.0946)">.</text><text transform="translate(96.32 270.63) scale(0.9502 1.0000)">1</text><text transform="translate(117.25 270.75) scale(0.9948 1.0082)">0</text></g>
<g fill="#1a1a1a" font-size="35.320"><text transform="translate(64.24 116.75) scale(0.9948 1.0082)">0</text><text transform="translate(84.89 116.63) scale(1.0212 1.0946)">.</text><text transform="translate(96.32 116.63) scale(0.9502 1.0000)">1</text><text transform="translate(117.16 116.63) scale(0.9589 1.0031)">2</text></g>
<g fill="#1a1a1a" font-size="35.320"><text transform="translate(217.79 1108.64) scale(0.9948 1.0082)">0</text></g>
<g fill="#1a1a1a" font-size="35.320"><text transform="translate(411.47 1108.52) scale(0.9502 1.0000)">1</text><text transform="translate(432.40 1108.64) scale(0.9948 1.0082)">0</text></g>
<g fill="#1a1a1a" font-size="35.320"><text transform="translate(615.10 1108.52) scale(0.9589 1.0031)">2</text><text transform="translate(636.40 1108.64) scale(0.9948 1.0082)">0</text></g>
<g fill="#1a1a1a" font-size="35.320"><text transform="translate(819.62 1108.64) scale(0.9554 1.0082)">3</text><text transform="translate(840.40 1108.64) scale(0.9948 1.0082)">0</text></g>
<g fill="#1a1a1a" font-size="35.320"><text transform="translate(1023.19 1108.52) scale(0.9949 1.0000)">4</text><text transform="translate(1044.40 1108.64) scale(0.9948 1.0082)">0</text></g>
<g fill="#1a1a1a" font-size="35.320"><text transform="translate(1227.61 1108.64) scale(0.9389 1.0052)">5</text><text transform="translate(1248.40 1108.64) scale(0.9948 1.0082)">0</text></g>
<g fill="#1a1a1a" font-size="35.320"><text transform="translate(1430.84 1108.64) scale(1.0296 1.0082)">6</text><text transform="translate(1452.40 1108.64) scale(0.9948 1.0082)">0</text></g>
<g fill="#1a1a1a" font-size="35.320"><text transform="translate(1635.34 1108.52) scale(0.9731 1.0000)">7</text><text transform="translate(1656.40 1108.64) scale(0.9948 1.0082)">0</text></g>
<g fill="#1a1a1a" font-size="35.320"><text transform="translate(1839.08 1108.64) scale(1.0056 1.0082)">8</text><text transform="translate(1860.40 1108.64) scale(0.9948 1.0082)">0</text></g>
<g fill="#1a1a1a" font-size="35.320"><text transform="translate(1008.60 1152.46) scale(0.9577 1.0000)">V</text><text transform="translate(1029.43 1152.59) scale(0.8486 0.9892)">a</text><text transform="translate(1049.98 1152.46) scale(0.9647 0.9895)">l</text><text transform="translate(1058.89 1152.58) scale(1.0175 1.0071)">u</text><text transform="translate(1079.83 1152.59) scale(1.0194 0.9892)">e</text></g>
<g transform="translate(47.19 574.94) rotate(-90)"><g fill="#1a1a1a" font-size="35.320"><text transform="translate(-64.06 0.00) scale(0.9764 1.0000)">D</text><text transform="translate(-38.52 0.13) scale(1.0194 0.9892)">e</text><text transform="translate(-17.69 0.00) scale(1.0175 0.9823)">n</text><text transform="translate(3.72 0.13) scale(0.9046 0.9918)">s</text><text transform="translate(21.03 0.00) scale(0.9647 0.9895)">i</text><text transform="translate(29.65 -0.28) scale(1.2613 1.0128)">t</text><text transform="translate(43.40 -0.16) scale(1.0135 0.9682)">y</text></g></g>
<g fill="#333333" font-size="47.094"><text transform="translate(516.03 53.55) scale(0.9431 1.0000)">M</text><text transform="translate(554.15 53.72) scale(1.0217 0.9892)">e</text><text transform="translate(582.12 53.72) scale(0.8506 0.9892)">a</text><text transform="translate(609.30 53.55) scale(1.0198 0.9823)">n</text><text transform="translate(652.00 53.55) scale(1.0208 0.9769)">v</text><text transform="translate(678.42 53.72) scale(0.9067 0.9918)">s</text><text transform="translate(715.29 53.55) scale(0.9431 1.0000)">M</text><text transform="translate(753.47 53.72) scale(1.0056 0.9892)">o</text><text transform="translate(780.68 53.72) scale(1.0281 0.9946)">d</text><text transform="translate(808.94 53.72) scale(1.0217 0.9892)">e</text><text transform="translate(851.25 53.55) scale(0.9669 0.9895)">i</text><text transform="translate(863.33 53.55) scale(1.0198 0.9823)">n</text><text transform="translate(905.84 53.72) scale(0.8506 0.9892)">a</text><text transform="translate(947.45 53.72) scale(0.8432 1.0082)">S</text><text transform="translate(974.89 53.18) scale(1.2642 1.0128)">t</text><text transform="translate(992.32 53.55) scale(1.2119 0.9823)">r</text><text transform="translate(1009.87 53.72) scale(1.0056 0.9892)">o</text><text transform="translate(1037.51 53.55) scale(1.0198 0.9823)">n</text><text transform="translate(1065.31 53.28) scale(1.0281 0.9741)">g</text><text transform="translate(1094.29 53.55) scale(0.9669 0.9895)">l</text><text transform="translate(1106.75 53.33) scale(1.0158 0.9682)">y</text><text transform="translate(1147.19 53.72) scale(0.8432 1.0082)">S</text><text transform="translate(1175.03 53.55) scale(1.0576 0.9895)">k</text><text transform="translate(1198.96 53.72) scale(1.0217 0.9892)">e</text><text transform="translate(1227.89 53.55) scale(0.9561 0.9769)">w</text><text transform="translate(1262.80 53.72) scale(1.0217 0.9892)">e</text><text transform="translate(1290.22 53.72) scale(1.0281 0.9946)">d</text><text transform="translate(1332.82 53.55) scale(0.9787 1.0000)">D</text><text transform="translate(1367.68 53.55) scale(0.9669 0.9895)">i</text><text transform="translate(1380.13 53.72) scale(0.9067 0.9918)">s</text><text transform="translate(1402.41 53.18) scale(1.2642 1.0128)">t</text><text transform="translate(1419.84 53.55) scale(1.2119 0.9823)">r</text><text transform="translate(1439.05 53.55) scale(0.9669 0.9895)">i</text><text transform="translate(1451.19 53.72) scale(1.0291 0.9946)">b</text><text transform="translate(1479.21 53.72) scale(1.0198 1.0071)">u</text><text transform="translate(1507.08 53.18) scale(1.2642 1.0128)">t</text><text transform="translate(1525.40 53.55) scale(0.9669 0.9895)">i</text><text transform="translate(1537.09 53.72) scale(1.0056 0.9892)">o</text><text transform="translate(1564.73 53.55) scale(1.0198 0.9823)">n</text></g>
<rect x="1642.40" y="85.60" width="304.00" height="174.70" rx="5.5" ry="5.5" fill="#ffffff" fill-opacity="0.8" stroke="#d4d4d4" stroke-width="2.8"/>
<path d="M1649.1 108 L1712.9 108" stroke="#4682b4" stroke-width="8.33" fill="none"/>
<path d="M1652.9 150.00 L1673.8 150.00 M1682.0 150.00 L1703.05 150.00" stroke="#008000" stroke-width="5.56" fill="none"/>
<path d="M1652.9 191.90 L1673.8 191.90 M1682.0 191.90 L1703.05 191.90" stroke="#ffa500" stroke-width="5.56" fill="none"/>
<path d="M1652.9 233.90 L1673.8 233.90 M1682.0 233.90 L1703.05 233.90" stroke="#ff0000" stroke-width="5.56" fill="none"/>
<g fill="#333333" font-size="29.434"><text transform="translate(1731.15 117.54) scale(0.9840 1.0000)">D</text><text transform="translate(1753.06 117.54) scale(0.9722 0.9895)">i</text><text transform="translate(1760.88 117.64) scale(0.9117 0.9918)">s</text><text transform="translate(1774.88 117.30) scale(1.2712 1.0128)">t</text><text transform="translate(1785.84 117.54) scale(1.2186 0.9823)">r</text><text transform="translate(1797.91 117.54) scale(0.9722 0.9895)">i</text><text transform="translate(1805.54 117.64) scale(1.0347 0.9946)">b</text><text transform="translate(1823.15 117.64) scale(1.0254 1.0071)">u</text><text transform="translate(1840.66 117.30) scale(1.2712 1.0128)">t</text><text transform="translate(1852.18 117.54) scale(0.9722 0.9895)">i</text><text transform="translate(1859.53 117.64) scale(1.0111 0.9892)">o</text><text transform="translate(1876.90 117.54) scale(1.0254 0.9823)">n</text></g>
<g fill="#333333" font-size="29.434"><text transform="translate(1730.85 159.06) scale(0.9488 1.0000)">M</text><text transform="translate(1754.86 159.17) scale(1.0116 0.9892)">o</text><text transform="translate(1771.96 159.17) scale(1.0342 0.9946)">d</text><text transform="translate(1789.74 159.17) scale(1.0278 0.9892)">e</text><text transform="translate(1817.61 160.36) scale(1.2054 1.0331)">≈</text><text transform="translate(1848.67 159.16) scale(1.0031 1.0082)">0</text><text transform="translate(1866.03 159.06) scale(1.0296 1.0946)">.</text><text transform="translate(1875.63 159.06) scale(0.9580 1.0000)">1</text><text transform="translate(1893.13 159.16) scale(1.0140 1.0082)">8</text></g>
<g fill="#333333" font-size="29.434"><text transform="translate(1730.43 200.37) scale(0.9464 1.0000)">M</text><text transform="translate(1754.34 200.48) scale(1.0253 0.9892)">e</text><text transform="translate(1771.54 200.48) scale(1.0317 0.9946)">d</text><text transform="translate(1789.73 200.37) scale(0.9703 0.9895)">i</text><text transform="translate(1797.38 200.48) scale(0.8536 0.9892)">a</text><text transform="translate(1814.42 200.37) scale(1.0234 0.9823)">n</text><text transform="translate(1842.47 201.67) scale(1.2025 1.0331)">≈</text><text transform="translate(1873.82 200.48) scale(0.9609 1.0082)">3</text><text transform="translate(1890.77 200.37) scale(1.0271 1.0946)">.</text><text transform="translate(1900.47 200.48) scale(0.9443 1.0052)">5</text><text transform="translate(1917.89 200.37) scale(1.0007 1.0000)">4</text></g>
<g fill="#333333" font-size="29.434"><text transform="translate(1730.75 243.06) scale(0.9476 1.0000)">M</text><text transform="translate(1754.68 243.16) scale(1.0265 0.9892)">e</text><text transform="translate(1772.25 243.16) scale(0.8546 0.9892)">a</text><text transform="translate(1789.31 243.06) scale(1.0246 0.9823)">n</text><text transform="translate(1817.39 244.35) scale(1.2039 1.0331)">≈</text><text transform="translate(1848.77 243.16) scale(0.9454 1.0052)">5</text><text transform="translate(1865.75 243.06) scale(1.0283 1.0946)">.</text><text transform="translate(1875.02 243.16) scale(1.0126 1.0082)">8</text><text transform="translate(1893.14 243.06) scale(0.9568 1.0000)">1</text></g>
</g>
</svg>
</body></html>
